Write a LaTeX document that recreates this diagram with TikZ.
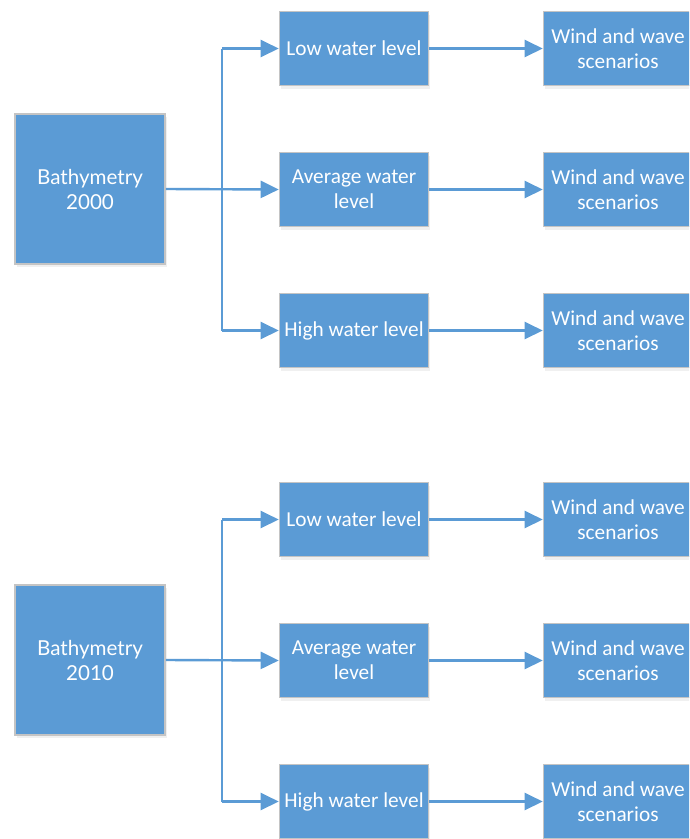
\documentclass[tikz,border=0pt]{standalone}
\usepackage{fontspec}
\setmainfont{Carlito}
\newfontfamily\lightfont{Lato}
\usetikzlibrary{arrows.meta,shadows}
\definecolor{boxblue}{HTML}{5B9BD5}
\definecolor{boxedge}{HTML}{C4C4C4}
\begin{document}
\begin{tikzpicture}[x=1pt,y=-1pt,
  box/.style={draw=boxedge,line width=1.6pt,fill=boxblue,text=white,align=center,inner sep=0pt,
    font=\fontsize{21.3}{25}\selectfont,
    drop shadow={opacity=0.12,shadow xshift=1.5pt,shadow yshift=-3pt}},
  bigbox/.style={box,minimum width=150pt,minimum height=150pt,font=\lightfont\fontsize{20.6}{25}\selectfont},
  midbox/.style={box,minimum width=149pt,minimum height=74pt},
  conn/.style={draw=boxblue,line width=2.4pt},
  arr/.style={conn,-{Triangle[length=18pt,width=17pt]}}]
\useasboundingbox (0,0) rectangle (689,839);
\clip (0,0) rectangle (689,839);
\foreach \g/\yr in {0/2000,471/2010}{
  \begin{scope}[yshift=-\g pt]
    \node[bigbox] (b\yr) at (90,189) {Bathymetry\\\yr};
    \node[midbox] (lo\yr) at (354,48.5) {Low water level};
    \node[midbox] (av\yr) at (354,189.5) {Average water\\level};
    \node[midbox] (hi\yr) at (354,330.5) {High water level};
    \node[midbox] (wlo\yr) at (618,48.5) {Wind and wave\\scenarios};
    \node[midbox] (wav\yr) at (618,189.5) {Wind and wave\\scenarios};
    \node[midbox] (whi\yr) at (618,330.5) {Wind and wave\\scenarios};
    \coordinate (t\yr) at (222,189);
    \draw[conn] (t\yr |- lo\yr.west) -- (t\yr |- hi\yr.west);
    \draw[arr] (b\yr.east) -- (av\yr.west);
    \draw[arr] (t\yr |- lo\yr.west) -- (lo\yr.west);
    \draw[arr] (t\yr |- hi\yr.west) -- (hi\yr.west);
    \draw[arr] (lo\yr.east) -- (wlo\yr.west);
    \draw[arr] (av\yr.east) -- (wav\yr.west);
    \draw[arr] (hi\yr.east) -- (whi\yr.west);
  \end{scope}
}
\end{tikzpicture}
\end{document}
